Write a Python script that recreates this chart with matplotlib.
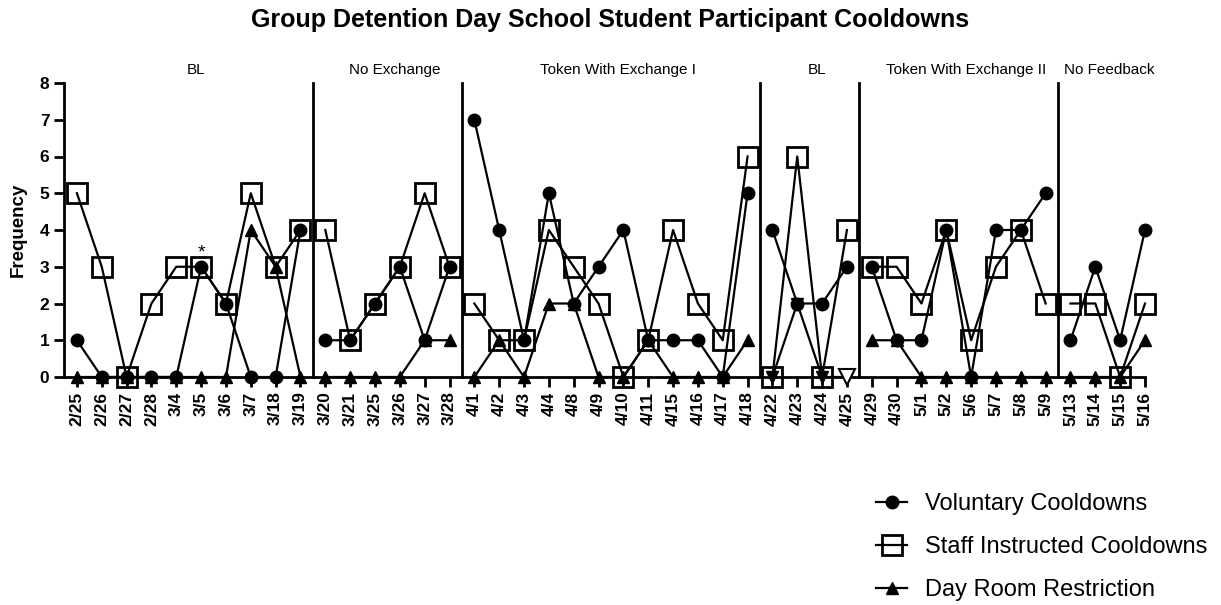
import numpy as np
import matplotlib
matplotlib.use('Agg')
import matplotlib.pyplot as plt
from matplotlib.lines import Line2D

plt.rcParams['font.family'] = ['Liberation Sans', 'DejaVu Sans']

# phases of the study and how many sessions each one has
phase_names = ['BL', 'No Exchange', 'Token With Exchange I', 'BL',
               'Token With Exchange II', 'No Feedback']
phase_sizes = [10, 6, 12, 4, 8, 4]

dates = ['2/25', '2/26', '2/27', '2/28', '3/4', '3/5', '3/6', '3/7', '3/18', '3/19',
         '3/20', '3/21', '3/25', '3/26', '3/27', '3/28',
         '4/1', '4/2', '4/3', '4/4', '4/8', '4/9', '4/10', '4/11', '4/15', '4/16', '4/17', '4/18',
         '4/22', '4/23', '4/24', '4/25',
         '4/29', '4/30', '5/1', '5/2', '5/6', '5/7', '5/8', '5/9',
         '5/13', '5/14', '5/15', '5/16']

voluntary = [1, 0, 0, 0, 0, 3, 2, 0, 0, 4,
             1, 1, 2, 3, 1, 3,
             7, 4, 1, 5, 2, 3, 4, 1, 1, 1, 0, 5,
             4, 2, 2, 3,
             3, 1, 1, 4, 0, 4, 4, 5,
             1, 3, 1, 4]

staff = [5, 3, 0, 2, 3, 3, 2, 5, 3, 4,
         4, 1, 2, 3, 5, 3,
         2, 1, 1, 4, 3, 2, 0, 1, 4, 2, 1, 6,
         0, 6, 0, 4,
         3, 3, 2, 4, 1, 3, 4, 2,
         2, 2, 0, 2]

dayroom = [0, 0, 0, 0, 0, 0, 0, 4, 3, 0,
           0, 0, 0, 0, 1, 1,
           0, 1, 0, 2, 2, 0, 0, 1, 0, 0, 0, 1,
           0, 2, 0, 0,
           1, 1, 0, 0, 0, 0, 0, 0,
           0, 0, 0, 1]

hollow_dayroom = ['4/25']
starred = ['3/5']
inverted_phase = 3

x = np.arange(len(dates))
bounds = np.cumsum([0] + phase_sizes)
xmin, xmax = -0.52, len(dates) - 1
lw = 1.6

fig = plt.figure(figsize=(12.21, 6.05), dpi=100)
ax = fig.add_axes([64 / 1221, 228 / 605, 1081 / 1221, 294 / 605])

vol = np.array(voluntary)
stf = np.array(staff)
day = np.array(dayroom)

# each phase is drawn as its own set of lines so they break at phase changes
for p in range(len(phase_sizes)):
    s = slice(bounds[p], bounds[p + 1])
    tri = 'v' if p == inverted_phase else '^'
    ax.plot(x[s], stf[s], color='black', lw=lw, marker='s', ms=14, mfc='none',
            mew=2, clip_on=False, zorder=4)
    ax.plot(x[s], vol[s], color='black', lw=lw, marker='o', ms=9,
            clip_on=False, zorder=5)
    ax.plot(x[s], day[s], color='black', lw=lw, marker=tri, ms=9,
            clip_on=False, zorder=6)

for d in hollow_dayroom:
    i = dates.index(d)
    ax.plot(x[i], day[i], marker='v', ms=12, mfc='white', mec='black', mew=1.5,
            clip_on=False, zorder=7)

for d in starred:
    i = dates.index(d)
    ax.text(x[i], vol[i] + 0.15, '*', ha='center', va='bottom', fontsize=14)

# phase change lines and labels
for b in bounds[1:-1]:
    ax.plot([b - 0.5, b - 0.5], [0, 8], color='black', lw=2, clip_on=False, zorder=3)
for p, name in enumerate(phase_names):
    left = max(bounds[p] - 0.5, xmin)
    right = min(bounds[p + 1] - 0.5, xmax)
    ax.text((left + right) / 2 + 0.3, 8.15, name, ha='center', va='bottom', fontsize=11)

ax.set_xlim(xmin, xmax)
ax.set_ylim(0, 8)
ax.set_xticks(x)
ax.set_xticklabels(dates, rotation=90, fontweight='bold', fontsize=12.5)
ax.set_yticks(range(9))
ax.set_yticklabels([str(v) for v in range(9)], fontweight='bold', fontsize=12.5)
ax.tick_params(axis='both', width=2, length=7, direction='out')
for side in ['top', 'right']:
    ax.spines[side].set_visible(False)
for side in ['left', 'bottom']:
    ax.spines[side].set_linewidth(2)
ax.set_ylabel('Frequency', fontweight='bold', fontsize=13.5, labelpad=9)

fig.text(0.5, 1 - 20 / 605, 'Group Detention Day School Student Participant Cooldowns',
         ha='center', va='center', fontweight='bold', fontsize=18)

handles = [
    Line2D([], [], color='black', lw=lw, marker='o', ms=9),
    Line2D([], [], color='black', lw=lw, marker='s', ms=14, mfc='none', mew=2),
    Line2D([], [], color='black', lw=lw, marker='^', ms=9),
]
labels = ['Voluntary Cooldowns', 'Staff Instructed Cooldowns', 'Day Room Restriction']
fig.legend(handles, labels, loc='upper left', bbox_to_anchor=(855 / 1221, 1 - 472 / 605),
           frameon=False, fontsize=17, handlelength=1.3, handletextpad=0.75,
           labelspacing=0.88)

fig.savefig('out.png', dpi=100)
